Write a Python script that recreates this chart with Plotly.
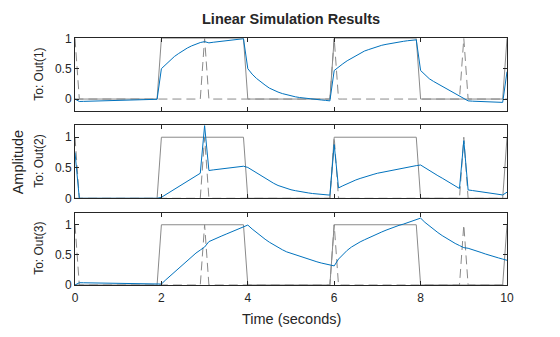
import plotly.graph_objects as go

# ---- data (sample grid 0:0.1:10) ----
t = [0.0, 0.1, 0.2, 0.3, 0.4, 0.5, 0.6, 0.7, 0.8, 0.9,
     1.0, 1.1, 1.2, 1.3, 1.4, 1.5, 1.6, 1.7, 1.8, 1.9,
     2.0, 2.1, 2.2, 2.3, 2.4, 2.5, 2.6, 2.7, 2.8, 2.9,
     3.0, 3.1, 3.2, 3.3, 3.4, 3.5, 3.6, 3.7, 3.8, 3.9,
     4.0, 4.1, 4.2, 4.3, 4.4, 4.5, 4.6, 4.7, 4.8, 4.9,
     5.0, 5.1, 5.2, 5.3, 5.4, 5.5, 5.6, 5.7, 5.8, 5.9,
     6.0, 6.1, 6.2, 6.3, 6.4, 6.5, 6.6, 6.7, 6.8, 6.9,
     7.0, 7.1, 7.2, 7.3, 7.4, 7.5, 7.6, 7.7, 7.8, 7.9,
     8.0, 8.1, 8.2, 8.3, 8.4, 8.5, 8.6, 8.7, 8.8, 8.9,
     9.0, 9.1, 9.2, 9.3, 9.4, 9.5, 9.6, 9.7, 9.8, 9.9,
     10.0]

u_square = [0, 0, 0, 0, 0, 0, 0, 0, 0, 0,
            0, 0, 0, 0, 0, 0, 0, 0, 0, 0,
            1, 1, 1, 1, 1, 1, 1, 1, 1, 1,
            1, 1, 1, 1, 1, 1, 1, 1, 1, 1,
            0, 0, 0, 0, 0, 0, 0, 0, 0, 0,
            0, 0, 0, 0, 0, 0, 0, 0, 0, 0,
            1, 1, 1, 1, 1, 1, 1, 1, 1, 1,
            1, 1, 1, 1, 1, 1, 1, 1, 1, 1,
            0, 0, 0, 0, 0, 0, 0, 0, 0, 0,
            0, 0, 0, 0, 0, 0, 0, 0, 0, 0,
            1]

u_pulse = [1, 0, 0, 0, 0, 0, 0, 0, 0, 0,
           0, 0, 0, 0, 0, 0, 0, 0, 0, 0,
           0, 0, 0, 0, 0, 0, 0, 0, 0, 0,
           1, 0, 0, 0, 0, 0, 0, 0, 0, 0,
           0, 0, 0, 0, 0, 0, 0, 0, 0, 0,
           0, 0, 0, 0, 0, 0, 0, 0, 0, 0,
           1, 0, 0, 0, 0, 0, 0, 0, 0, 0,
           0, 0, 0, 0, 0, 0, 0, 0, 0, 0,
           0, 0, 0, 0, 0, 0, 0, 0, 0, 0,
           1, 0, 0, 0, 0, 0, 0, 0, 0, 0,
           0]

y_out1 = [0.0, -0.04, -0.038, -0.036, -0.034, -0.032, -0.03, -0.028, -0.026, -0.024,
          -0.022, -0.02, -0.018, -0.016, -0.014, -0.012, -0.01, -0.008, -0.006, -0.004,
          0.5, 0.57, 0.64, 0.7, 0.75, 0.8, 0.84, 0.875, 0.905, 0.93,
          0.945, 0.925, 0.935, 0.945, 0.955, 0.962, 0.97, 0.978, 0.985, 0.993,
          0.5, 0.41, 0.34, 0.28, 0.23, 0.18, 0.145, 0.115, 0.09, 0.07,
          0.05, 0.037, 0.025, 0.015, 0.007, 0.0, -0.008, -0.015, -0.022, -0.03,
          0.47, 0.53, 0.58, 0.63, 0.67, 0.71, 0.75, 0.79, 0.815, 0.84,
          0.865, 0.885, 0.9, 0.915, 0.93, 0.94, 0.95, 0.96, 0.97, 0.975,
          0.47, 0.4, 0.335, 0.29, 0.25, 0.215, 0.18, 0.14, 0.1, 0.06,
          0.02, -0.03, -0.035, -0.038, -0.041, -0.044, -0.047, -0.05, -0.053, -0.055,
          0.45]

y_out2 = [0.75, 0, 0, 0, 0, 0, 0, 0, 0, 0,
          0, 0, 0, 0, 0, 0, 0, 0, 0, 0,
          0.016, 0.06, 0.11, 0.155, 0.2, 0.245, 0.29, 0.33, 0.37, 0.41,
          1.19, 0.455, 0.465, 0.475, 0.485, 0.495, 0.503, 0.51, 0.518, 0.525,
          0.505, 0.46, 0.415, 0.37, 0.325, 0.28, 0.245, 0.21, 0.185, 0.16,
          0.14, 0.125, 0.11, 0.1, 0.088, 0.078, 0.07, 0.063, 0.057, 0.052,
          0.88, 0.17, 0.205, 0.24, 0.27, 0.3, 0.325, 0.35, 0.37, 0.39,
          0.41, 0.425, 0.44, 0.455, 0.47, 0.48, 0.495, 0.51, 0.52, 0.535,
          0.545, 0.5, 0.45, 0.41, 0.37, 0.33, 0.29, 0.25, 0.205, 0.16,
          0.945, 0.137, 0.127, 0.117, 0.108, 0.098, 0.088, 0.078, 0.066, 0.055,
          0.1]

y_out3 = [0.0, 0.038, 0.037, 0.036, 0.035, 0.034, 0.033, 0.032, 0.031, 0.03,
          0.029, 0.028, 0.027, 0.026, 0.025, 0.024, 0.023, 0.022, 0.021, 0.02,
          0.016, 0.085, 0.15, 0.22, 0.285, 0.35, 0.41, 0.47, 0.53, 0.58,
          0.63, 0.72, 0.755, 0.785, 0.815, 0.845, 0.875, 0.905, 0.935, 0.965,
          0.995, 0.93, 0.87, 0.81, 0.76, 0.71, 0.665, 0.625, 0.585, 0.55,
          0.525, 0.5, 0.475, 0.45, 0.425, 0.405, 0.385, 0.365, 0.345, 0.33,
          0.317, 0.43, 0.51, 0.575, 0.63, 0.675, 0.715, 0.75, 0.785, 0.82,
          0.85, 0.88, 0.91, 0.94, 0.965, 0.99, 1.01, 1.035, 1.06, 1.085,
          1.11, 1.04, 0.98, 0.92, 0.87, 0.82, 0.775, 0.73, 0.69, 0.655,
          0.62, 0.61, 0.59, 0.565, 0.54, 0.515, 0.49, 0.47, 0.45, 0.43,
          0.41]

outputs = [y_out1, y_out2, y_out3]
row_labels = ["To: Out(1)", "To: Out(2)", "To: Out(3)"]
x_ticks = [0, 2, 4, 6, 8, 10]
y_ticks = [0, 0.5, 1]
y_tick_text = ["0", "0.5", "1"]
y_ranges = [[-0.2, 1.0], [0, 1.2], [0, 1.2]]

# ---- styling ----
GRAY = "#8a8a8a"
BLUE = "#0072BD"
AX = "#262626"
FONT = "Liberation Sans, Arial, sans-serif"

W, H = 560, 337
ML, MR, MT, MB = 75, 53, 38, 52
plot_h = H - MT - MB
extents = [(38.3, 111.2), (125.0, 198.3), (212.7, 285.0)]
bottom_px = H - MB


def to_paper_y(py):
    return (bottom_px - py) / plot_h


fig = go.Figure()
for i, yv in enumerate(outputs, start=1):
    xa = "x" if i == 1 else f"x{i}"
    ya = "y" if i == 1 else f"y{i}"
    fig.add_trace(go.Scatter(x=t, y=u_square, mode="lines",
                             line=dict(color=GRAY, width=1),
                             xaxis=xa, yaxis=ya, hoverinfo="skip"))
    fig.add_trace(go.Scatter(x=t, y=u_pulse, mode="lines",
                             line=dict(color=GRAY, width=1, dash="9px,5px"),
                             xaxis=xa, yaxis=ya, hoverinfo="skip"))
    fig.add_trace(go.Scatter(x=t, y=yv, mode="lines",
                             line=dict(color=BLUE, width=1),
                             xaxis=xa, yaxis=ya, hoverinfo="skip"))

common_axis = dict(showline=True, linecolor=AX, linewidth=1, mirror="ticks",
                   ticks="inside", ticklen=4, tickcolor=AX, tickwidth=1,
                   showgrid=False, zeroline=False,
                   tickfont=dict(family=FONT, size=12, color=AX))

layout = dict(width=W, height=H,
              margin=dict(l=ML, r=MR, t=MT, b=MB, pad=0),
              paper_bgcolor="white", plot_bgcolor="white",
              showlegend=False,
              font=dict(family=FONT, size=12, color=AX))

annotations = []
for i in range(1, 4):
    top, bot = extents[i - 1]
    dom = [max(0.0, to_paper_y(bot)), min(1.0, to_paper_y(top))]
    xk = "xaxis" if i == 1 else f"xaxis{i}"
    yk = "yaxis" if i == 1 else f"yaxis{i}"
    layout[xk] = dict(common_axis, domain=[0, 1], range=[0, 10],
                      tickvals=x_ticks, showticklabels=(i == 3),
                      ticklabelstandoff=2,
                      anchor="y" if i == 1 else f"y{i}")
    layout[yk] = dict(common_axis, domain=dom, range=y_ranges[i - 1],
                      tickvals=y_ticks, ticktext=y_tick_text,
                      anchor="x" if i == 1 else f"x{i}")
    annotations.append(dict(text=row_labels[i - 1], textangle=-90,
                            xref="paper", yref="paper",
                            x=(39 - ML) / (W - ML - MR),
                            y=to_paper_y((top + bot) / 2),
                            xanchor="center", yanchor="middle",
                            showarrow=False,
                            font=dict(family=FONT, size=12, color=AX)))

annotations.append(dict(text="Amplitude", textangle=-90,
                        xref="paper", yref="paper",
                        x=(18.3 - ML) / (W - ML - MR),
                        y=to_paper_y(162.0),
                        xanchor="center", yanchor="middle", showarrow=False,
                        font=dict(family=FONT, size=14.5, color=AX)))
annotations.append(dict(text="Time (seconds)",
                        xref="paper", yref="paper",
                        x=0.5, y=to_paper_y(319),
                        xanchor="center", yanchor="middle", showarrow=False,
                        font=dict(family=FONT, size=14.5, color=AX)))
annotations.append(dict(text="<b>Linear Simulation Results</b>",
                        xref="paper", yref="paper",
                        x=0.5, y=to_paper_y(19.5),
                        xanchor="center", yanchor="middle", showarrow=False,
                        font=dict(family=FONT, size=14.5, color=AX)))
layout["annotations"] = annotations

fig.update_layout(**layout)
fig.write_html("out.html")
